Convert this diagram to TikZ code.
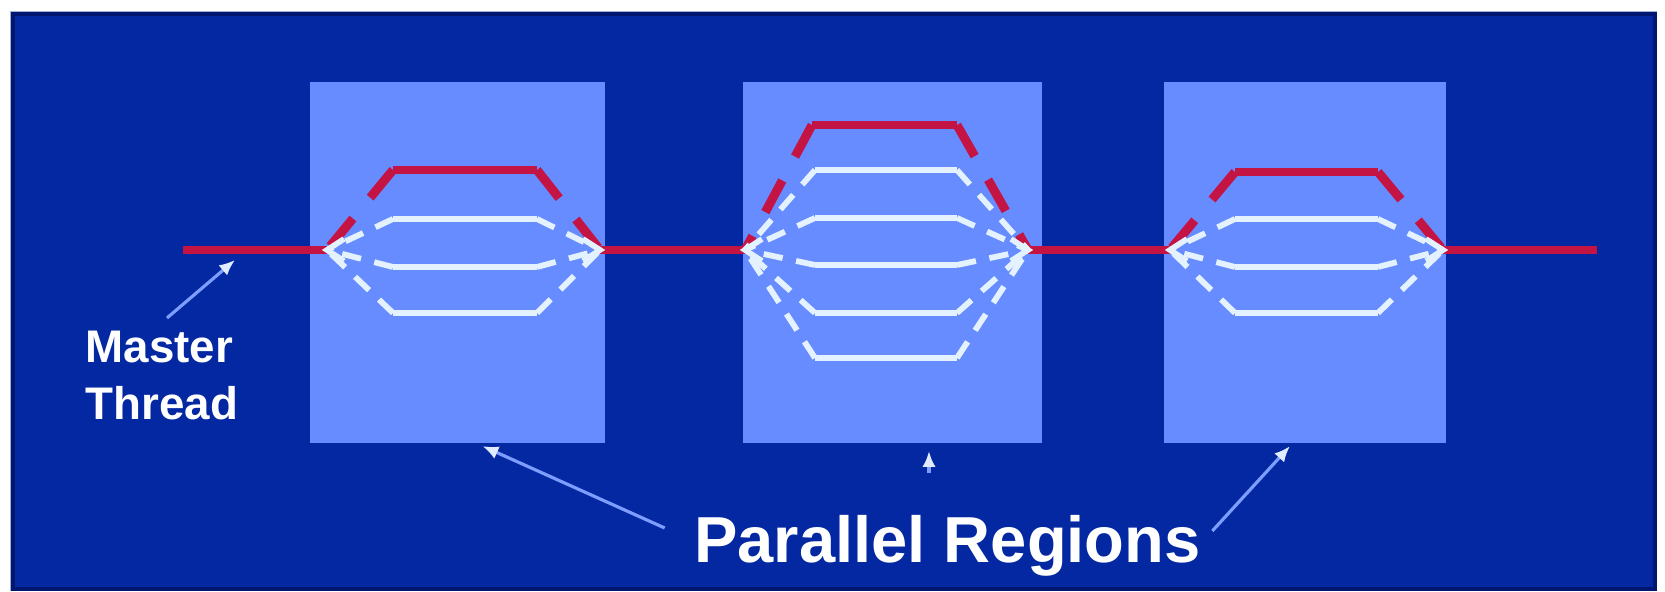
\documentclass[tikz,border=0pt]{standalone}
\usepackage{fontspec}
\setmainfont{Liberation Sans}
\usetikzlibrary{arrows.meta,calc}
\definecolor{bgblue}{RGB}{4,40,162}
\definecolor{navyedge}{RGB}{0,22,112}
\definecolor{paleedge}{RGB}{160,175,215}
\definecolor{boxblue}{RGB}{102,140,255}
\definecolor{thrred}{RGB}{196,20,68}
\definecolor{thrwhite}{RGB}{228,242,255}
\definecolor{ptrblue}{RGB}{125,158,255}
\definecolor{ptrtip}{RGB}{225,235,255}
\newcommand\mythr[6]{%
  \draw[#1d] (#4,#6) -- (#2);
  \draw[#1t] (#4,#6) -- (#5,#6);
  \draw[#1d] (#5,#6) -- (#3);
}
\begin{document}
\begin{tikzpicture}[x=0.01cm,y=-0.01cm,
  regionbox/.style={fill=boxblue, draw=none, inner sep=0pt, outer sep=0pt},
  mthread/.style={draw=thrred, line width=2.3pt},
  redt/.style={draw=thrred, line width=2.55pt},
  redd/.style={redt, dash pattern=on 10.2pt off 7.7pt},
  whitet/.style={draw=thrwhite, line width=1.65pt},
  whited/.style={whitet, dash pattern=on 5.5pt off 3.9pt},
  chev/.style={draw=thrwhite, line width=1.6pt},
  pointer/.style={draw=ptrblue, line width=0.9pt, -{Latex[length=4.5pt,width=3.8pt,color=ptrtip]}},
  lbl/.style={text=white, inner sep=0pt, font=\bfseries}]
\useasboundingbox (0,0) rectangle (1665,592);
\fill[white] (0,0) rectangle (1665,592);
\fill[paleedge] (10,11) rectangle (1657,591);
\fill[bgblue] (12,13) rectangle (1656,590);
\draw[navyedge, line width=0.9pt] (13,14) rectangle (1655,589);
% parallel region boxes
\node[regionbox, minimum width=2.95cm, minimum height=3.61cm] (box1) at (457.5,262.5) {};
\node[regionbox, minimum width=2.99cm, minimum height=3.61cm] (box2) at (892.5,262.5) {};
\node[regionbox, minimum width=2.82cm, minimum height=3.61cm] (box3) at (1305,262.5) {};
% fork / join points
\coordinate (ms) at (183,250);
\coordinate (me) at (1597,250);
\coordinate (f1l) at (327,250);
\coordinate (f1r) at (600,250);
\coordinate (f2l) at (745,250);
\coordinate (f2r) at (1028,250);
\coordinate (f3l) at (1170,250);
\coordinate (f3r) at (1443,250);
% master thread
\draw[mthread] (ms) -- (f1l);
\draw[mthread] (f1r) -- (f2l);
\draw[mthread] (f2r) -- (f3l);
\draw[mthread] (f3r) -- (me);
% region 1
\mythr{red}{f1l}{f1r}{393}{537}{170}
\mythr{white}{f1l}{f1r}{393}{537}{219}
\mythr{white}{f1l}{f1r}{393}{537}{267}
\mythr{white}{f1l}{f1r}{393}{537}{313}
% region 2
\mythr{red}{f2l}{f2r}{812}{957}{125}
\mythr{white}{f2l}{f2r}{815}{957}{170}
\mythr{white}{f2l}{f2r}{815}{957}{218}
\mythr{white}{f2l}{f2r}{815}{957}{265}
\mythr{white}{f2l}{f2r}{815}{957}{313}
\mythr{white}{f2l}{f2r}{815}{957}{358}
% region 3
\mythr{red}{f3l}{f3r}{1235}{1378}{172}
\mythr{white}{f3l}{f3r}{1235}{1378}{219}
\mythr{white}{f3l}{f3r}{1235}{1378}{267}
\mythr{white}{f3l}{f3r}{1235}{1378}{313}
% chevrons at forks and joins
\foreach \f in {f1l,f2l,f3l}{
  \draw[chev] ($(\f)+(17,-11)$) -- (\f) -- ($(\f)+(17,11)$);
}
\foreach \f in {f1r,f2r,f3r}{
  \draw[chev] ($(\f)+(-17,-11)$) -- (\f) -- ($(\f)+(-17,11)$);
}
% labels
\node[lbl, font=\fontsize{13}{16.2}\selectfont\bfseries, align=left, anchor=north west] (master) at (85,330) {Master\\Thread};
\coordinate (mtip) at (235,260);
\draw[pointer] ($(master.north west)+(82,-12)$) -- (mtip);
\node[lbl, font=\fontsize{18.5}{22}\selectfont\bfseries, anchor=base] (pr) at (947.5,563) {Parallel Regions};
\draw[pointer] ($(pr.base west)+(-29,-35)$) -- ($(box1.south)+(25,3)$);
\draw[pointer] ($(pr.base)+(-18.5,-90)$) -- ($(box2.south)+(36.5,8)$);
\draw[pointer] ($(pr.base east)+(11,-32)$) -- ($(box3.south)+(-15,3)$);
\end{tikzpicture}
\end{document}
